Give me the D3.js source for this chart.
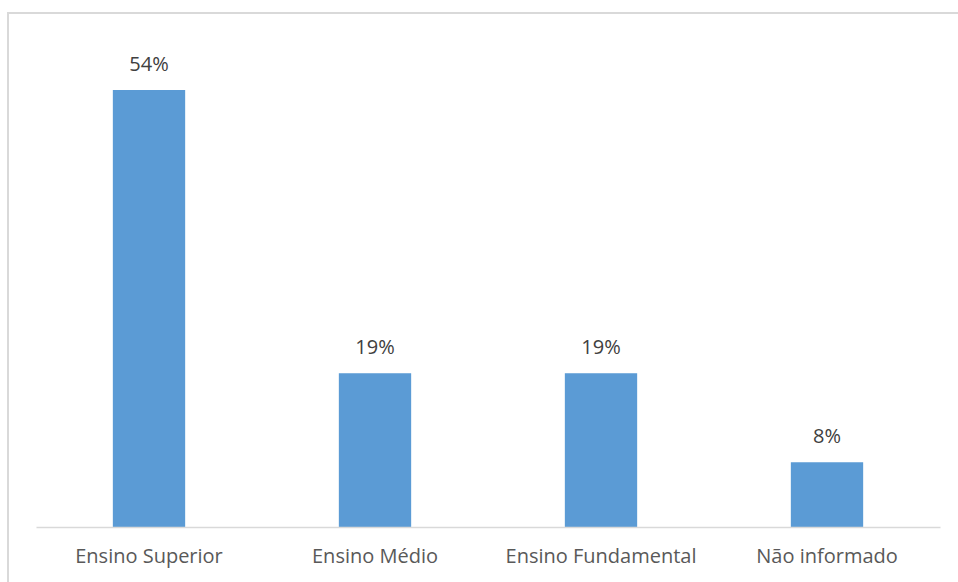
<!DOCTYPE html>
<html>
<head>
<meta charset="utf-8">
<script src="https://cdn.jsdelivr.net/npm/d3@7"></script>
<style>
  html, body { margin: 0; padding: 0; background: #fff; }
  svg { display: block; }
</style>
</head>
<body>
<svg id="chart" width="958" height="582"></svg>
<script>
const categories = ["Ensino Superior", "Ensino Médio", "Ensino Fundamental", "Não informado"];
const values = [54, 19, 19, 8];
const valueLabels = ["54%", "19%", "19%", "8%"];

const svg = d3.select("#chart");
const W = 958, H = 582;

// outer chart border (extends beyond the picture on right/bottom)
svg.append("rect")
  .attr("x", 8).attr("y", 13)
  .attr("width", W + 20).attr("height", H + 20)
  .attr("fill", "none")
  .attr("stroke", "#d9d9d9")
  .attr("stroke-width", 2);

const plot = { left: 36, right: 940, top: 90, bottom: 527 };

const x = d3.scaleBand()
  .domain(categories)
  .range([plot.left, plot.right])
  .paddingInner(0.68)
  .paddingOuter(0.34);

const y = d3.scaleLinear()
  .domain([0, 54])
  .range([plot.bottom, plot.top]);

const data = categories.map((c, i) => ({ c, v: values[i], label: valueLabels[i] }));

svg.append("g").selectAll("rect")
  .data(data)
  .join("rect")
  .attr("x", d => x(d.c))
  .attr("y", d => y(d.v))
  .attr("width", x.bandwidth())
  .attr("height", d => y(0) - y(d.v))
  .attr("fill", "#5B9BD5");

// baseline axis
const axis = d3.axisBottom(x).tickSize(0).tickPadding(22);
const gAxis = svg.append("g")
  .attr("transform", `translate(0,${plot.bottom})`)
  .call(axis);
gAxis.select(".domain").attr("stroke", "#d9d9d9").attr("stroke-width", 1.5);
gAxis.selectAll("text")
  .attr("fill", "#595959")
  .style("font-family", "'Open Sans', sans-serif")
  .style("font-size", "20px");

// value labels
svg.append("g").selectAll("text")
  .data(data)
  .join("text")
  .attr("x", d => x(d.c) + x.bandwidth() / 2)
  .attr("y", d => y(d.v) - 19)
  .attr("text-anchor", "middle")
  .attr("fill", "#404040")
  .style("font-family", "'Open Sans', sans-serif")
  .style("font-size", "20px")
  .text(d => d.label);
</script>
</body>
</html>
